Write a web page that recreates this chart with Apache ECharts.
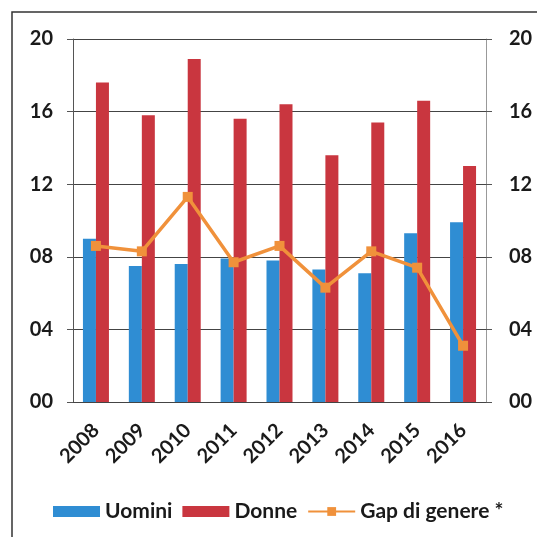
<!DOCTYPE html>
<html>
<head>
<meta charset="utf-8">
<script src="https://cdn.jsdelivr.net/npm/echarts@6/dist/echarts.min.js"></script>
<style>
  html, body { margin: 0; padding: 0; background: #fff; }
  #chart { width: 537px; height: 537px; }
</style>
</head>
<body>
<div id="chart"></div>
<script>
// Anni e valori per genere
const years = ['2008', '2009', '2010', '2011', '2012', '2013', '2014', '2015', '2016'];
const uomini = [9.0, 7.5, 7.6, 7.9, 7.8, 7.3, 7.1, 9.3, 9.9];
const donne = [17.6, 15.8, 18.9, 15.6, 16.4, 13.6, 15.4, 16.6, 13.0];
const gap = [8.6, 8.3, 11.3, 7.7, 8.6, 6.3, 8.3, 7.4, 3.1];

const yTicks = { min: 0, max: 20, interval: 4 };
const pad2 = v => (v < 10 ? '0' : '') + v;

const font = 'Lato, "Open Sans", sans-serif';

const chart = echarts.init(document.getElementById('chart'), null, { renderer: 'canvas' });

const valueAxis = (pos, showLine, margin) => ({
  type: 'value',
  position: pos,
  min: yTicks.min,
  max: yTicks.max,
  interval: yTicks.interval,
  axisLine: { show: true, lineStyle: { color: showLine ? '#555' : '#999', width: 1 } },
  axisTick: { show: true, length: 6, lineStyle: { color: '#555' } },
  axisLabel: {
    formatter: pad2,
    fontFamily: font,
    fontWeight: 'bold',
    fontSize: 20,
    color: '#1a1a1a',
    margin: margin
  },
  splitLine: { show: showLine, lineStyle: { color: '#444', width: 1 } }
});

chart.setOption({
  animation: false,
  backgroundColor: '#fff',
  graphic: [{
    type: 'rect',
    shape: { x: 12, y: 12, width: 700, height: 700 },
    style: { fill: 'none', stroke: '#333', lineWidth: 1.5 },
    silent: true
  }],
  grid: { left: 73, right: 51, top: 39, bottom: 135 },
  legend: {
    left: 48,
    top: 496,
    itemGap: 10,
    itemWidth: 47,
    itemHeight: 11,
    textStyle: { fontFamily: font, fontWeight: 'bold', fontSize: 21, color: '#1a1a1a' },
    data: [
      { name: 'Uomini', icon: 'rect' },
      { name: 'Donne', icon: 'rect' },
      { name: 'Gap di genere *' }
    ]
  },
  xAxis: {
    type: 'category',
    data: years,
    axisLine: { show: true, lineStyle: { color: '#444' } },
    axisTick: { show: false },
    axisLabel: {
      rotate: 45,
      interval: 0,
      fontFamily: font,
      fontWeight: 'bold',
      fontSize: 20,
      color: '#1a1a1a',
      margin: 25
    }
  },
  yAxis: [valueAxis('left', true, 20), valueAxis('right', false, 23)],
  series: [
    {
      name: 'Uomini',
      type: 'bar',
      data: uomini,
      barWidth: 13,
      barGap: '0%',
      itemStyle: { color: '#2f8dd3' }
    },
    {
      name: 'Donne',
      type: 'bar',
      data: donne,
      barWidth: 13,
      itemStyle: { color: '#c9363f' }
    },
    {
      name: 'Gap di genere *',
      type: 'line',
      data: gap,
      symbol: 'rect',
      symbolSize: 10,
      lineStyle: { color: '#f0913b', width: 3.5 },
      itemStyle: { color: '#f0913b' }
    }
  ]
});
</script>
</body>
</html>
